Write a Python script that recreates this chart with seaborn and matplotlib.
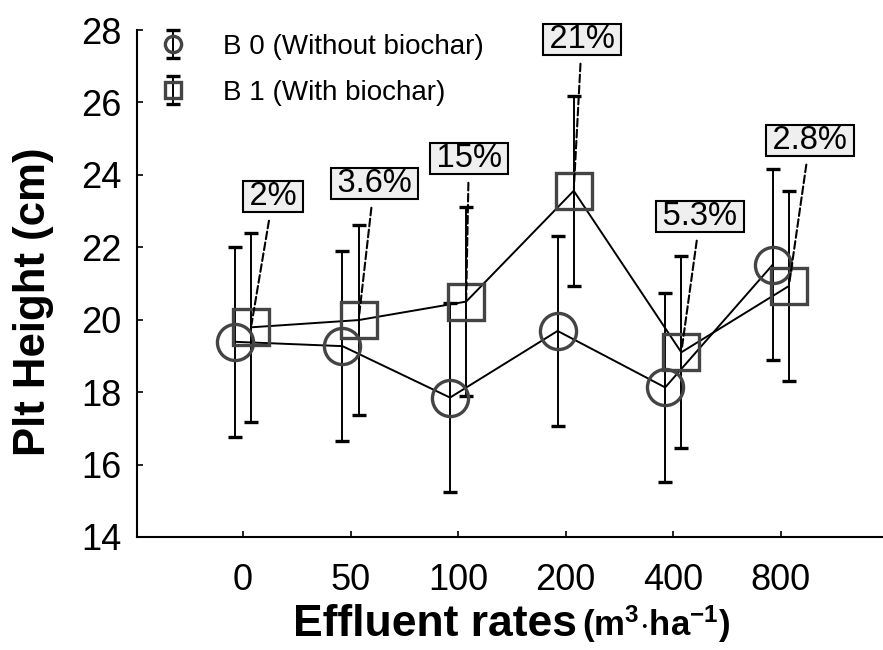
import numpy as np
import pandas as pd
import matplotlib
matplotlib.use("Agg")
import matplotlib.pyplot as plt
import seaborn as sns

categories = ["0", "50", "100", "200", "400", "800"]
b0_mean = [19.39, 19.27, 17.85, 19.69, 18.13, 21.52]
b0_err = [2.62, 2.62, 2.62, 2.62, 2.62, 2.63]
b1_mean = [19.79, 19.99, 20.50, 23.56, 19.10, 20.93]
b1_err = [2.61, 2.63, 2.60, 2.62, 2.65, 2.63]
pct_labels = ["2%", "3.6%", "15%", "21%", "5.3%", "2.8%"]
pct_text_x = [0.28, 1.22, 2.10, 3.15, 4.25, 5.27]
pct_text_y = [23.41, 23.77, 24.46, 27.75, 22.86, 24.96]
series_names = ["B 0 (Without biochar)", "B 1 (With biochar)"]

sns.set_style("ticks")
plt.rcParams["font.family"] = ["Liberation Sans", "DejaVu Sans"]
plt.rcParams["mathtext.fontset"] = "custom"
plt.rcParams["mathtext.rm"] = "Liberation Sans"
plt.rcParams["mathtext.bf"] = "Liberation Sans:bold"
for key in ["text.color", "xtick.color", "ytick.color", "axes.labelcolor", "axes.edgecolor"]:
    plt.rcParams[key] = "black"

W, H = 883, 650
fig = plt.figure(figsize=(W / 100, H / 100), dpi=100)
ax = fig.add_axes([137 / W, 1 - 537 / H, (W - 137) / W, (537 - 30) / H])

off = 0.075
idx = np.arange(len(categories))
df = pd.DataFrame({
    "x": np.concatenate([idx - off, idx + off]),
    "y": b0_mean + b1_mean,
    "series": [series_names[0]] * 6 + [series_names[1]] * 6,
})

sns.lineplot(data=df, x="x", y="y", units="series", estimator=None,
             color="black", lw=1.4, ax=ax, legend=False, sort=False)

markers = ["o", "s"]
for k, (m, e) in enumerate([(b0_mean, b0_err), (b1_mean, b1_err)]):
    xs = idx - off if k == 0 else idx + off
    ax.errorbar(xs, m, yerr=e, fmt=markers[k], mfc="none", mec="#444444",
                ms=26, mew=2.4, ecolor="black", elinewidth=1.4, capsize=5,
                capthick=1.8, label=series_names[k], zorder=3)

for i, lab in enumerate(pct_labels):
    ax.annotate("\u2009" + lab + "\u2009", xy=(idx[i] + off, b1_mean[i]),
                xytext=(pct_text_x[i], pct_text_y[i]),
                ha="center", va="center", fontsize=23.5,
                bbox=dict(boxstyle="square,pad=0.0", fc="#efefef", ec="black", lw=1.5),
                arrowprops=dict(arrowstyle="-", ls="--", lw=1.5, color="black",
                                shrinkA=6, shrinkB=2), zorder=5)

ax.set_xlim(-0.985, 5.95)
ax.set_ylim(14, 28)
ax.set_yticks(range(14, 29, 2))
ax.set_xticks(idx)
ax.set_xticklabels(categories)
ax.tick_params(axis="both", direction="in", length=4, width=1.2, labelsize=26)
ax.tick_params(axis="x", pad=19)
ax.tick_params(axis="y", pad=11)
for s in ["top", "right"]:
    ax.spines[s].set_visible(False)
for s in ["left", "bottom"]:
    ax.spines[s].set_linewidth(1.5)
ax.set_xlabel("")
ax.set_ylabel("")

leg = ax.legend(loc="upper left", bbox_to_anchor=(0.0, 1.02), frameon=False,
                fontsize=20, markerscale=0.45, handlelength=1.6,
                handletextpad=1.0, labelspacing=0.72, borderaxespad=0.1)

fig.text(34 / W, 1 - 302 / H, "Plt Height (cm)", rotation=90, ha="center",
         va="center", fontsize=31.5, fontweight="bold")
fig.text(577 / W, 1 - 636 / H, "Effluent rates", ha="right", va="baseline",
         fontsize=32, fontweight="bold")
fig.text(582 / W, 1 - 636 / H, r"$\mathbf{(m^{3}{\cdot}ha^{-1})}$", ha="left",
         va="baseline", fontsize=25)

fig.savefig("out.png", dpi=100)
